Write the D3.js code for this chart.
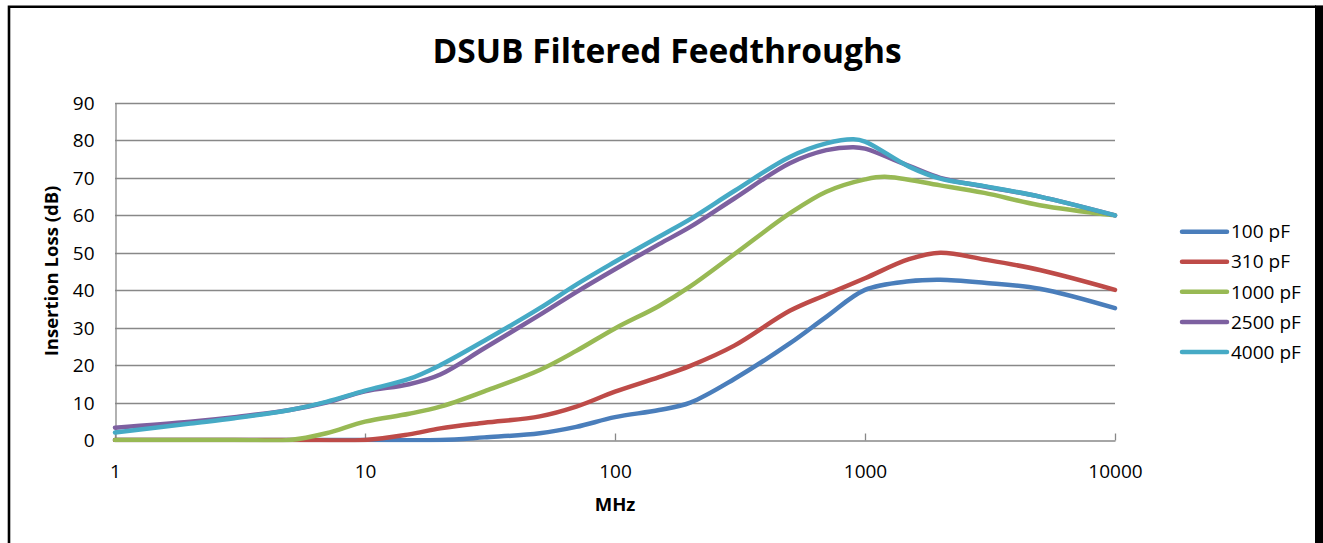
<!DOCTYPE html>
<html>
<head>
<meta charset="utf-8">
<script src="https://cdn.jsdelivr.net/npm/d3@7"></script>
<style>
html,body{margin:0;padding:0;background:#fff;}
svg{display:block;font-family:"Open Sans",sans-serif;}
</style>
</head>
<body>
<svg id="chart" width="1323" height="543"></svg>
<script>
// ---- data ----
const chartTitle = "DSUB Filtered Feedthroughs";
const xTitle = "MHz";
const yTitle = "Insertion Loss (dB)";
const xTicks = [1, 10, 100, 1000, 10000];
const yTicks = [0, 10, 20, 30, 40, 50, 60, 70, 80, 90];
const seriesNames = ["100 pF", "310 pF", "1000 pF", "2500 pF", "4000 pF"];
const seriesColors = ["#4A7EBB", "#BE4B48", "#98B954", "#7D60A0", "#46AAC5"];

const freq100  = [1, 5, 10, 20, 30, 50, 70, 100, 150, 200, 300, 500, 700, 1000, 1500, 2000, 3000, 5000, 10000];
const loss100  = [0, 0, 0, 0, 0.7, 1.8, 3.5, 6.1, 8.0, 10.0, 16.3, 25.8, 32.9, 40.1, 42.4, 42.8, 42.0, 40.4, 35.2];

const freq310  = [1, 5, 10, 15, 20, 30, 50, 70, 100, 150, 200, 300, 500, 700, 1000, 1500, 2000, 3000, 5000, 10000];
const loss310  = [0, 0, 0, 1.5, 3.1, 4.6, 6.3, 8.9, 12.9, 16.8, 19.8, 25.2, 34.5, 38.8, 43.2, 48.3, 50.0, 48.2, 45.4, 40.1];

const freq1000 = [1, 3, 5, 7, 10, 15, 20, 30, 50, 70, 100, 150, 200, 300, 500, 700, 1000, 1200, 2000, 3000, 5000, 10000];
const loss1000 = [0, 0, 0, 1.8, 4.9, 7.0, 8.9, 13.0, 18.7, 23.8, 29.8, 35.8, 41.0, 49.6, 60.5, 66.3, 69.6, 70.3, 68.0, 66.0, 62.7, 60.0];

const freq2500 = [1, 2, 3, 5, 7, 10, 15, 20, 30, 50, 70, 100, 150, 200, 300, 500, 700, 900, 1000, 1500, 2000, 3000, 5000, 10000];
const loss2500 = [3.3, 4.9, 6.1, 8.0, 10.0, 13.0, 14.9, 17.5, 24.5, 33.4, 39.5, 45.6, 52.3, 56.9, 64.5, 73.9, 77.4, 78.2, 77.8, 73.2, 70.0, 67.7, 65.0, 60.0];

const freq4000 = [1, 2, 3, 5, 7, 10, 15, 20, 30, 50, 70, 100, 150, 200, 300, 500, 700, 900, 1000, 1500, 2000, 3000, 5000, 10000];
const loss4000 = [2.0, 4.4, 5.8, 8.0, 10.2, 13.2, 16.3, 20.0, 26.5, 35.2, 41.5, 47.6, 54.3, 59.0, 66.5, 75.6, 79.2, 80.3, 79.7, 73.0, 69.8, 67.8, 65.0, 60.0];

const seriesFreqs = [freq100, freq310, freq1000, freq2500, freq4000];
const seriesLoss  = [loss100, loss310, loss1000, loss2500, loss4000];

// ---- layout ----
const svg = d3.select("#chart");
const plot = {left: 115, right: 1115, top: 103, bottom: 440};

const x = d3.scaleLog().domain([1, 10000]).range([plot.left, plot.right]);
const y = d3.scaleLinear().domain([0, 90]).range([plot.bottom, plot.top]);

// outer frame
svg.append("path")
  .attr("d", `M9,543 L9,6.7 L1316,6.7`)
  .attr("fill", "none").attr("stroke", "#000").attr("stroke-width", 2.6);
svg.append("rect").attr("x", 1315).attr("y", 5.4).attr("width", 8).attr("height", 538).attr("fill", "#000");

// title
svg.append("text").attr("x", 667).attr("y", 63).attr("text-anchor", "middle")
  .attr("font-size", 33.5).attr("font-weight", "bold").attr("fill", "#000").text(chartTitle);

// gridlines
svg.append("g").selectAll("line").data(yTicks.filter(d => d > 0)).join("line")
  .attr("x1", plot.left).attr("x2", plot.right)
  .attr("y1", d => Math.round(y(d)) + 0.5).attr("y2", d => Math.round(y(d)) + 0.5)
  .attr("stroke", "#888").attr("stroke-width", 1.3);

// y axis
const yAxis = d3.axisLeft(y).tickValues(yTicks).tickSize(0).tickPadding(21);
const gy = svg.append("g").attr("transform", `translate(${plot.left + 0.5},0)`).call(yAxis);
gy.select(".domain").attr("stroke", "#888").attr("stroke-width", 1.3);
gy.selectAll("text").attr("font-size", 19).attr("font-family", "Open Sans").attr("fill", "#000").attr("dy", "0.34em");

// x axis
const xAxis = d3.axisBottom(x).tickValues(xTicks).tickSize(0).tickPadding(24).tickFormat(d3.format("d"));
const gx = svg.append("g").attr("transform", `translate(0,${plot.bottom + 0.5})`).call(xAxis);
gx.select(".domain").attr("stroke", "#888").attr("stroke-width", 1.3);
gx.selectAll("text").attr("font-size", 19).attr("font-family", "Open Sans").attr("fill", "#000");
// inward tick marks
gx.selectAll(".tick").append("line").attr("y1", 0).attr("y2", -7).attr("stroke", "#888").attr("stroke-width", 1.3);

// axis titles
svg.append("text").attr("transform", `translate(52,271) rotate(-90)`).attr("text-anchor", "middle")
  .attr("dy", "0.35em").attr("font-size", 18.5).attr("font-weight", "bold").text(yTitle);
svg.append("text").attr("x", 615).attr("y", 511).attr("text-anchor", "middle")
  .attr("font-size", 18.5).attr("font-weight", "bold").text(xTitle);

// lines (clamped to the 0 floor the way the reference shows it)
const line = d3.line().x(d => x(d[0])).y(d => y(d[1])).curve(d3.curveCatmullRom.alpha(0.5));
const clip = svg.append("defs").append("clipPath").attr("id", "plotclip");
clip.append("rect").attr("x", 0).attr("y", 0).attr("width", 1323).attr("height", plot.bottom + 2.3);
seriesNames.forEach((name, i) => {
  const pts = seriesFreqs[i].map((f, j) => [f, seriesLoss[i][j]]);
  svg.append("path").datum(pts).attr("d", line).attr("clip-path", "url(#plotclip)")
    .attr("fill", "none").attr("stroke", seriesColors[i]).attr("stroke-width", 4.5)
    .attr("stroke-linejoin", "round").attr("stroke-linecap", "round");
});

// legend
const legend = svg.append("g");
const legY = d3.scalePoint().domain(seriesNames).range([231.7, 352]);
seriesNames.forEach((name, i) => {
  const yy = legY(name);
  legend.append("line").attr("x1", 1182).attr("x2", 1227).attr("y1", yy).attr("y2", yy)
    .attr("stroke", seriesColors[i]).attr("stroke-width", 4.5).attr("stroke-linecap", "round");
  legend.append("text").attr("x", 1231).attr("y", yy).attr("dy", "0.35em")
    .attr("font-size", 19).attr("fill", "#000").text(name);
});
</script>
</body>
</html>
